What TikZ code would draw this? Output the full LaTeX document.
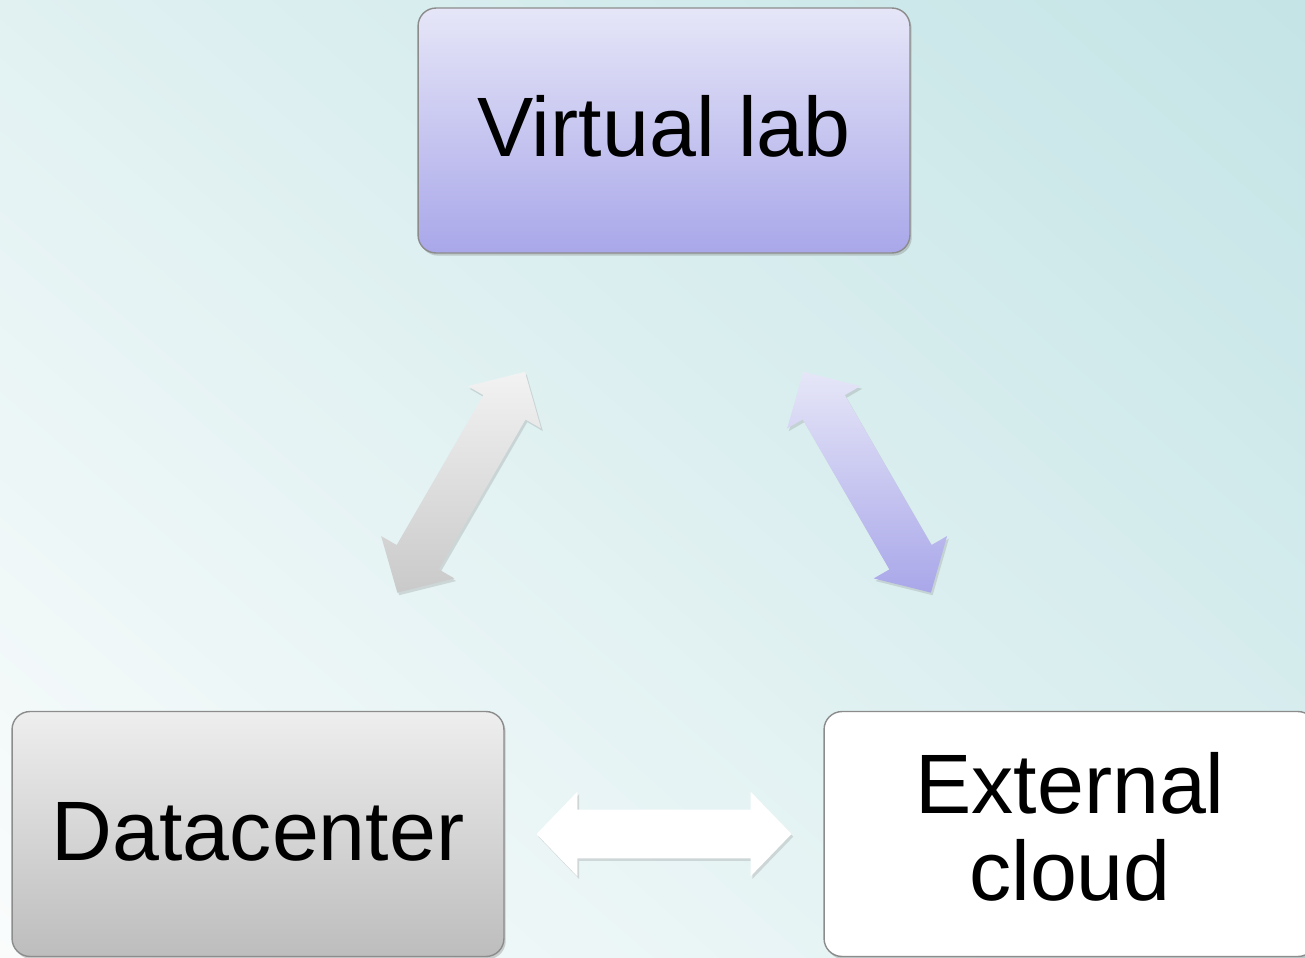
\documentclass[tikz,border=0pt]{standalone}
\usepackage{fontspec}
\setmainfont{Liberation Sans}
\usetikzlibrary{shapes.arrows,shadows,shadings}
\definecolor{bgTL}{HTML}{E1F1F2}
\definecolor{bgTR}{HTML}{C4E4E6}
\definecolor{bgBL}{HTML}{FAFCFC}
\definecolor{bgBR}{HTML}{DCEFF0}
\definecolor{labTop}{HTML}{E6E6F8}
\definecolor{labBot}{HTML}{A9A7E9}
\definecolor{dcTop}{HTML}{EEEEEE}
\definecolor{dcBot}{HTML}{BDBDBD}
\definecolor{edge}{HTML}{8C8C8C}
\begin{document}
\begin{tikzpicture}[x=0.02cm,y=-0.02cm,
        box/.style={draw=edge,line width=0.8pt,rounded corners=0.36cm,minimum width=9.84cm,minimum height=4.9cm,align=center,font=\fontsize{48}{49.5}\selectfont,drop shadow={shadow xshift=1pt,shadow yshift=-1.5pt,opacity=0.35}},
        twoway/.style={double arrow,sloped,inner xsep=0pt,inner ysep=0.48cm,minimum height=5.1cm,double arrow head extend=0.36cm,double arrow tip angle=92,drop shadow={shadow xshift=1pt,shadow yshift=-1.5pt,opacity=0.25}}]
    \useasboundingbox (0,0) rectangle (1305,957);
    \clip (0,0) rectangle (1305,957);
    \shade[upper left=bgTL,upper right=bgTR,lower left=bgBL,lower right=bgBR] (0,0) rectangle (1305,957);

    \node[box, top color=labTop, bottom color=labBot, text depth=5.5pt] at (664,130.5) (lab) {Virtual lab};
    \node[box, top color=dcTop, bottom color=dcBot, text depth=3pt] at (258,834) (dc) {Datacenter};
    \node[box, fill=white, text depth=8.5pt] at (1070,834) (cloud) {External\\cloud};

    \path (dc) -- node[twoway, top color=gray!10, bottom color=gray!42] (dcLab) {} (lab);
    \path (lab) -- node[twoway, top color=labTop, bottom color=labBot] (labCloud) {} (cloud);
    \path (dc) -- node[twoway, fill=white] (dcCloud) {} (cloud);
\end{tikzpicture}
\end{document}
